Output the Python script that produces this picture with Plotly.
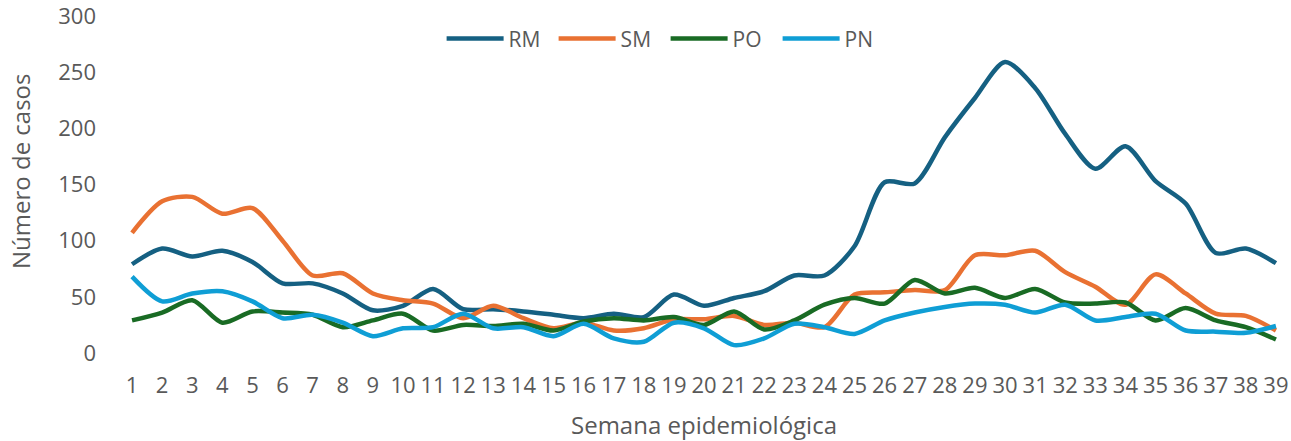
import plotly.graph_objects as go

semanas = list(range(1, 40))

rm = [79, 93, 86, 91, 81, 62, 62, 53, 38, 42, 57, 39, 39, 37, 34, 31, 35, 32, 52, 42,
      49, 55, 69, 69, 95, 152, 151, 192, 227, 259, 236, 195, 164, 184, 153, 133, 89, 93, 80]
sm = [107, 135, 139, 124, 129, 100, 69, 71, 53, 47, 44, 31, 42, 31, 22, 27, 20, 22, 30, 30,
      33, 25, 27, 23, 52, 54, 56, 56, 87, 87, 91, 72, 59, 43, 70, 53, 35, 33, 20]
po = [29, 36, 47, 27, 37, 36, 34, 23, 29, 35, 20, 25, 24, 26, 20, 28, 31, 29, 32, 25,
      37, 21, 29, 43, 49, 44, 65, 53, 58, 49, 57, 45, 44, 45, 29, 40, 29, 23, 12]
pn = [68, 46, 53, 55, 46, 31, 34, 27, 15, 22, 23, 35, 22, 23, 15, 26, 13, 10, 27, 22,
      7, 13, 26, 23, 17, 29, 36, 41, 44, 43, 36, 43, 29, 32, 35, 20, 19, 18, 24]
ticks_y = [0, 50, 100, 150, 200, 250, 300]

series = [("RM", rm, "#156082"), ("SM", sm, "#E97132"),
          ("PO", po, "#196B24"), ("PN", pn, "#0F9ED5")]

gris = "#595959"
fuente = "Open Sans"

fig = go.Figure()
for nombre, valores, color in series:
    fig.add_trace(go.Scatter(
        x=semanas, y=valores, name=nombre, mode="lines",
        line=dict(color=color, width=4.5, shape="spline", smoothing=0.8)))

# titulos de ejes como anotaciones para ubicarlos como en el original
annotations = [
    dict(xref="paper", yref="paper", x=0.5, y=-0.2107, xanchor="center", yanchor="middle",
         text="Semana epidemiológica", showarrow=False, font=dict(size=24, color=gris)),
    dict(xref="paper", yref="paper", x=0, y=0.54, xshift=-97, xanchor="center",
         yanchor="middle", textangle=-90, text="Número de casos", showarrow=False,
         font=dict(size=24, color=gris)),
]

fig.update_layout(
    width=1291, height=441,
    margin=dict(l=117, r=0, t=16, b=88),
    plot_bgcolor="white", paper_bgcolor="white",
    font=dict(family=fuente, color=gris, size=20),
    showlegend=True,
    legend=dict(orientation="h", x=0.2765, xanchor="left", y=0.932, yanchor="middle",
                font=dict(size=21, color=gris), itemwidth=57, entrywidth=40,
                bgcolor="rgba(0,0,0,0)"),
    annotations=annotations,
    xaxis=dict(range=[0.5, 39.5], tickmode="array", tickvals=semanas,
               showgrid=False, zeroline=False, showline=False, automargin=False,
               ticklabelstandoff=17, tickfont=dict(size=22, color=gris)),
    yaxis=dict(range=[0, 300.01], tickmode="array", tickvals=ticks_y,
               ticktext=[str(v) for v in ticks_y], ticklabeloverflow="allow",
               showgrid=False, zeroline=False, showline=False, automargin=False,
               ticklabelstandoff=20, tickfont=dict(size=22, color=gris)),
)

fig.write_html("out.html", config={"displayModeBar": False},
               post_script="document.body.style.margin='0';")
